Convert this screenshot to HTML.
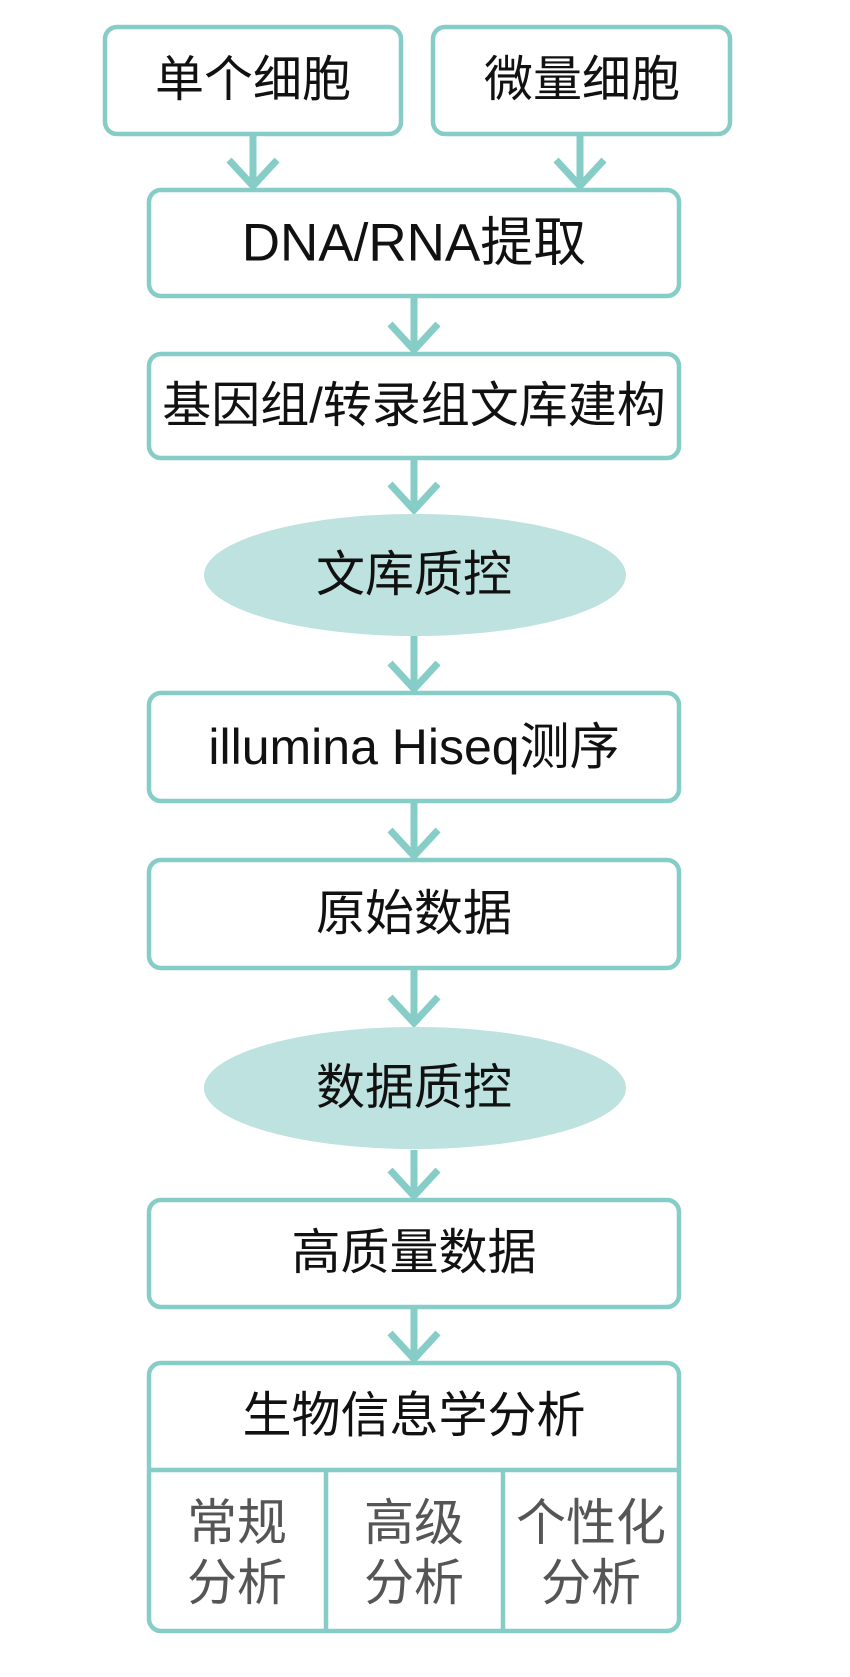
<!DOCTYPE html>
<html><head><meta charset="utf-8"><style>
html,body{margin:0;padding:0;background:#fff;}
svg{display:block}
text{font-family:"Liberation Sans","Noto Sans CJK SC",sans-serif;font-size:49px;fill:#111;text-anchor:middle;dominant-baseline:central;}
.g{fill:#555;font-size:50px;}
</style></head><body>
<svg width="850" height="1677" viewBox="0 0 850 1677" xmlns="http://www.w3.org/2000/svg">
<g fill="none" stroke="#86ccc7" stroke-width="4.5">
<rect x="105" y="27" width="296" height="107" rx="12"/>
<rect x="433" y="27" width="297" height="107" rx="12"/>
<rect x="149" y="190" width="530" height="106" rx="12"/>
<rect x="149" y="354" width="530" height="104" rx="12"/>
<rect x="149" y="693" width="530" height="108" rx="12"/>
<rect x="149" y="860" width="530" height="108" rx="12"/>
<rect x="149" y="1200" width="530" height="107" rx="12"/>
<rect x="149" y="1363" width="530" height="268" rx="12"/>
<line x1="149" y1="1470" x2="679" y2="1470"/>
<line x1="326" y1="1470" x2="326" y2="1631"/>
<line x1="503" y1="1470" x2="503" y2="1631"/>
</g>
<g fill="none" stroke="#86ccc7" stroke-width="7">
<path d="M253 134V186M229 160L253 186L277 160"/>
<path d="M580 134V186M556 160L580 186L604 160"/>
<path d="M414 296V350M390 324L414 350L438 324"/>
<path d="M414 458V510M390 484L414 510L438 484"/>
<path d="M414 636V689M390 663L414 689L438 663"/>
<path d="M414 801V856M390 830L414 856L438 830"/>
<path d="M414 968V1023M390 997L414 1023L438 997"/>
<path d="M414 1150V1196M390 1170L414 1196L438 1170"/>
<path d="M414 1307V1359M390 1333L414 1359L438 1333"/>
</g>
<ellipse cx="415" cy="575" rx="211" ry="61" fill="#bde2df"/>
<ellipse cx="415" cy="1088" rx="211" ry="61" fill="#bde2df"/>
<text x="253" y="80">单个细胞</text>
<text x="582" y="80">微量细胞</text>
<text x="414" y="243" style="font-size:53px">DNA/RNA提取</text>
<text x="414" y="406">基因组/转录组文库建构</text>
<text x="414" y="575">文库质控</text>
<text x="414" y="747" style="font-size:50px">illumina Hiseq测序</text>
<text x="414" y="914">原始数据</text>
<text x="414" y="1088">数据质控</text>
<text x="414" y="1253">高质量数据</text>
<text x="414" y="1416">生物信息学分析</text>
<text class="g" x="237" y="1523">常规</text>
<text class="g" x="237" y="1583">分析</text>
<text class="g" x="414" y="1523">高级</text>
<text class="g" x="414" y="1583">分析</text>
<text class="g" x="591" y="1523">个性化</text>
<text class="g" x="591" y="1583">分析</text>
</svg>
</body></html>
